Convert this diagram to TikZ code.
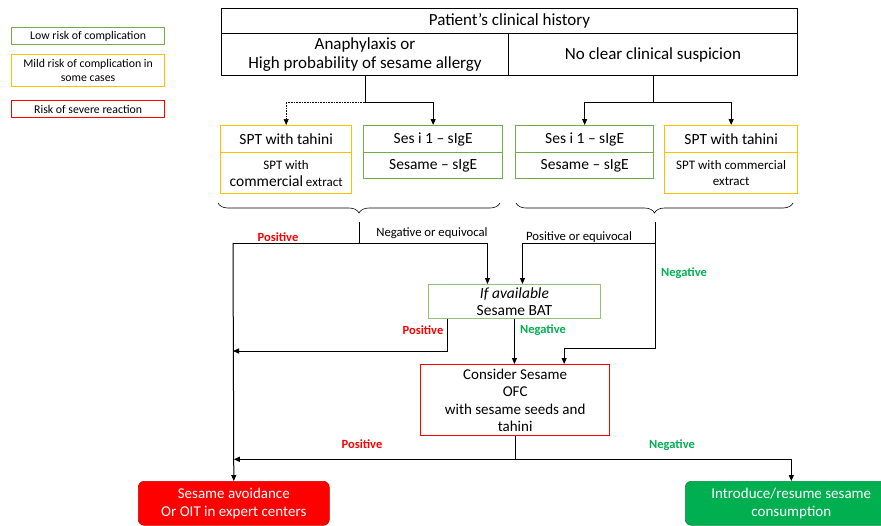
\documentclass[tikz,border=0pt]{standalone}
\usepackage{fontspec}
\setmainfont{Carlito}
\usetikzlibrary{positioning,arrows.meta,decorations.pathreplacing}
\definecolor{lowgreen}{RGB}{112,173,71}
\definecolor{mildyellow}{RGB}{255,192,0}
\definecolor{sevred}{RGB}{255,0,0}
\definecolor{okgreen}{RGB}{0,176,80}

\begin{document}
\begin{tikzpicture}[x=1pt,y=-1pt,
   cell/.style={draw=#1,line width=1.3pt,inner sep=0pt,anchor=north west,align=center,
     font=\fontsize{15.5}{17}\selectfont},
   cell/.default=black,
   legbox/.style={draw=#1,line width=1.2pt,inner sep=0pt,anchor=north west,align=center,
     minimum width=153pt,font=\fontsize{11.8}{14}\selectfont},
   endbox/.style={fill=#1,draw=#1!80!black,line width=0.6pt,rounded corners=6pt,inner sep=0pt,
     anchor=north west,align=center,text=white,font=\fontsize{15}{18}\selectfont},
   arr/.style={-{Triangle[length=6pt,width=5pt]}},
   lbl/.style={font=\fontsize{12.5}{14}\selectfont\bfseries,text=#1},
   note/.style={font=\fontsize{12.7}{14}\selectfont},
   brc/.style={decorate,decoration={brace,mirror,amplitude=10pt},line width=0.6pt},
   line width=1pt]
 \path[use as bounding box,clip] (0,0) rectangle (881,525);
 % legend
 \foreach \col/\Y/\H/\txt [count=\i] in {lowgreen/27/17/{Low risk of complication},
     mildyellow/54/32/{Mild risk of complication in\\some cases},
     sevred/100/17/{Risk of severe reaction}}
  {\node[legbox=\col,minimum height=\H pt] (leg\i) at (11,\Y) {\txt};}
 % clinical history
 \node[cell,line width=1pt,minimum width=576pt,minimum height=25pt,font=\fontsize{17}{19}\selectfont] (hist) at (221,8) {Patient’s clinical history};
 \node[cell,line width=1pt,minimum width=287pt,minimum height=42pt,font=\fontsize{17}{19}\selectfont] (ana) at (221,33) {Anaphylaxis or\\High probability of sesame allergy};
 \node[cell,line width=1pt,minimum width=289pt,minimum height=42pt,font=\fontsize{17}{19}\selectfont] (noclear) at (508,33) {No clear clinical suspicion};
 % tests
 \node[cell=mildyellow,minimum width=131pt,minimum height=27pt] (sptLa) at (220,125) {SPT with tahini};
 \node[cell=mildyellow,minimum width=131pt,minimum height=41pt,font=\fontsize{13}{17}\selectfont] (sptLb) at (220,152) {SPT with\\{\fontsize{15.5}{17}\selectfont commercial} extract};
 \node[cell=lowgreen,minimum width=139pt,minimum height=27pt] (sesLa) at (363,125) {Ses i 1 – sIgE};
 \node[cell=lowgreen,minimum width=139pt,minimum height=26pt] (sesLb) at (363,152) {Sesame – sIgE};
 \node[cell=lowgreen,minimum width=138pt,minimum height=27pt] (sesRa) at (515,125) {Ses i 1 – sIgE};
 \node[cell=lowgreen,minimum width=138pt,minimum height=26pt] (sesRb) at (515,152) {Sesame – sIgE};
 \node[cell=mildyellow,minimum width=133pt,minimum height=27pt] (sptRa) at (664,125) {SPT with tahini};
 \node[cell=mildyellow,minimum width=133pt,minimum height=41pt,font=\fontsize{13}{16}\selectfont] (sptRb) at (664,152) {SPT with commercial\\extract};
 % BAT and OFC
 \node[cell=lowgreen!75,line width=0.9pt,minimum width=172pt,minimum height=34pt] (bat) at (428,284) {\textit{If available}\\Sesame BAT};
 \node[cell=sevred,minimum width=189pt,minimum height=71pt,font=\fontsize{15}{17.5}\selectfont] (ofc) at (420,364) {Consider Sesame\\OFC\\with sesame seeds and\\tahini};
 % outcomes
 \node[endbox=sevred,minimum width=191pt,minimum height=44pt] (avoid) at (138,481) {Sesame avoidance\\Or OIT in expert centers};
 \node[endbox=okgreen,minimum width=212pt,minimum height=44pt] (intro) at (685,481) {Introduce/resume sesame\\consumption};
 % history to tests
 \draw (ana.south) -- ++(0,26) coordinate (lsplit);
 \draw[arr,densely dotted,line width=0.6pt] (lsplit) -| (sptLa.north);
 \draw[arr] (lsplit) -| (sesLa.north);
 \draw (noclear.south) -- ++(0,26) coordinate (rsplit);
 \draw[arr] (rsplit) -| (sesRa.north);
 \draw[arr] (rsplit) -| (sptRa.north);
 % braces
 \draw[brc] (218,203) -- (500,203);
 \draw[brc] (516,203) -- (793,203);
 \coordinate (bL) at (359,222);
 \coordinate (bR) at (655,222);
 \coordinate (lrow) at (233,243);
 \coordinate (lmid) at (233,351);
 % results
 \draw (bL) -- (bL |- lrow);
 \draw[arr] (lrow) -| ([xshift=-27pt]bat.north);
 \draw[arr] (lrow) -- (avoid.north);
 \draw[arr] (bR |- lrow) -| ([xshift=8pt]bat.north);
 \draw[arr] (bR) -- ++(0,126) -| ([xshift=49pt]ofc.north);
 \draw[arr] ([xshift=-67pt]bat.south) |- (lmid);
 \draw[arr] (bat.south) -- (bat.south |- ofc.north);
 \draw (ofc.south) -- ++(0,23) coordinate (ojoin);
 \draw[arr] (ojoin) -- (ojoin -| avoid.north);
 \draw[arr] (ojoin) -| (intro.north);
 % labels
 \node[lbl=sevred] (pos1) at (278,237) {Positive};
 \node[note] (neq) at (432,233) {Negative or equivocal};
 \node[note] (peq) at (579,237) {Positive or equivocal};
 \node[lbl=okgreen] (neg1) at (684,273) {Negative};
 \node[lbl=sevred] (pos2) at (423,330) {Positive};
 \node[lbl=okgreen] (neg2) at (543,330) {Negative};
 \node[lbl=sevred] (pos3) at (362,444) {Positive};
 \node[lbl=okgreen] (neg3) at (672,445) {Negative};
\end{tikzpicture}
\end{document}
